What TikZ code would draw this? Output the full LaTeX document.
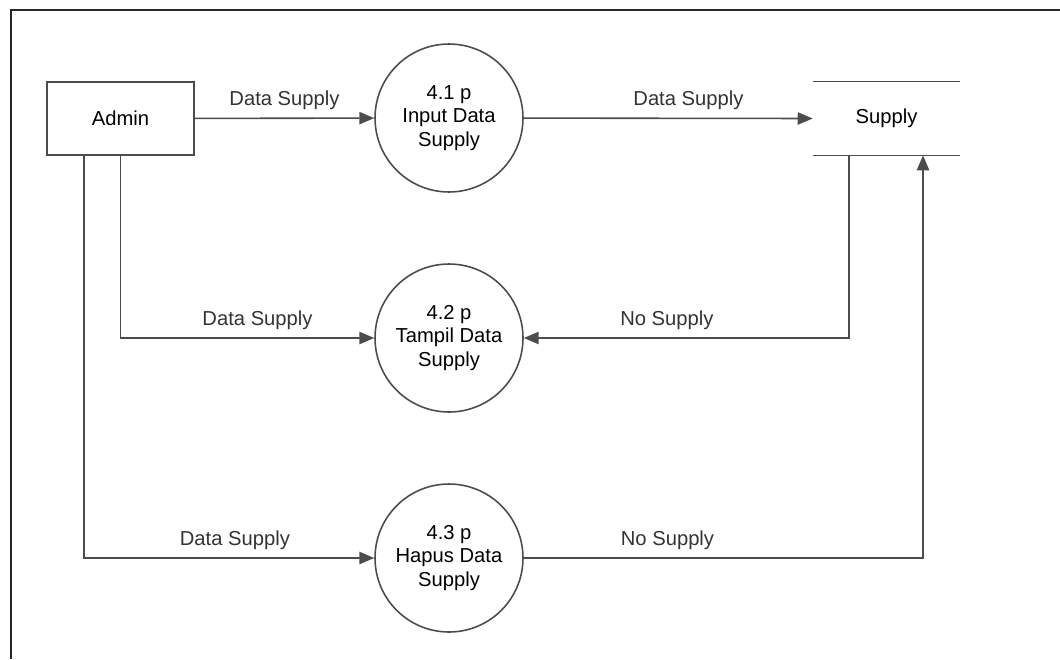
\documentclass[tikz,border=0pt]{standalone}
\usepackage{fontspec}
\setmainfont{Liberation Sans}
\usetikzlibrary{calc,arrows.meta}

\begin{document}
\begin{tikzpicture}[x=0.02cm,y=-0.02cm,
		font=\fontsize{11.5}{13.5}\selectfont,
		line/.style={draw=black!70,line width=0.9pt},
		flow/.style={line,-{Triangle[length=8.5pt,width=7pt]}},
		entity/.style={line,minimum width=2.94cm,minimum height=1.46cm},
		proc/.style={circle,line,minimum size=2.96cm,align=center,inner sep=0pt},
		lbl/.style={above=1pt,text=black!80}]
		% frame
		\useasboundingbox (0,0) rectangle (1060,659);
		\draw[black!85,line width=1pt] (11,659) -- (11,10) -- (1060,10);
		% nodes
		\node[entity] (admin) at (120.5,118.5) {Admin};
		\node[proc] (p1) at (449,118) {4.1 p\\Input Data\\Supply};
		\node[proc] (p2) at (449,338) {4.2 p\\Tampil Data\\Supply};
		\node[proc] (p3) at (449,558) {4.3 p\\Hapus Data\\Supply};
		\node[minimum width=2.94cm,minimum height=1.46cm] (store) at (886.5,118.5) {Supply};
		% data store
		\draw[line] (store.north west) -- (store.north east)
			(store.south west) -- (store.south east);
		\coordinate (s1) at ([xshift=-0.75cm]store.south);
		\coordinate (s2) at ([xshift=0.73cm]store.south);
		\coordinate (a1) at ([xshift=-0.73cm]admin.south);
		% flows
		\draw[flow] (admin) -- node[lbl] {Data Supply} (p1);
		\draw[flow] (p1) -- node[lbl,pos=0.57] {Data Supply} (store.west);
		\draw[flow] (admin.south) |- node[lbl,pos=0.77] {Data Supply} (p2);
		\draw[flow] (a1) |- node[lbl,pos=0.76] {Data Supply} (p3);
		\draw[flow] (s1) |- node[lbl,pos=0.78] {No Supply} (p2);
		\draw[flow] (p3) -| node[lbl,pos=0.18] {No Supply} (s2);
	\end{tikzpicture}
\end{document}
